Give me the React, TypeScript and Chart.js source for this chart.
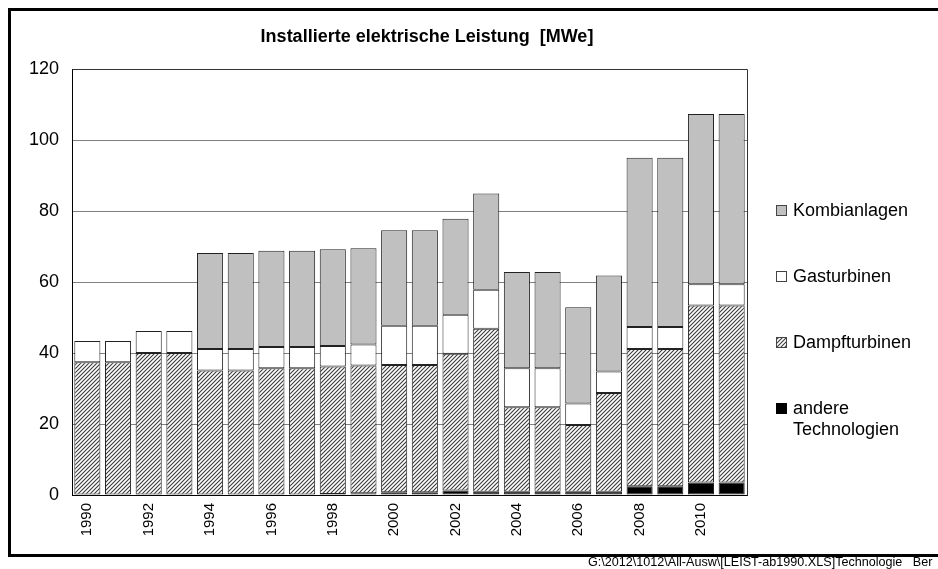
import React, { useEffect, useRef } from "react";
import { Chart, registerables } from "chart.js";
Chart.register(...registerables);

const years = [
  "1990", "1991", "1992", "1993", "1994", "1995", "1996", "1997", "1998", "1999", "2000",
  "2001", "2002", "2003", "2004", "2005", "2006", "2007", "2008", "2009", "2010", "2011",
];
const andereTechnologien = [0, 0, 0, 0, 0, 0, 0, 0, 0.3, 0.5, 0.8, 0.8, 1.3, 0.9, 0.9, 0.9, 0.9, 0.9, 2.5, 2.5, 3.5, 3.5];
const dampfturbinen = [37.4, 37.4, 40.0, 40.0, 35.1, 35.1, 35.7, 35.7, 35.9, 36.0, 35.8, 35.8, 38.5, 45.9, 23.8, 23.8, 18.8, 27.8, 38.6, 38.6, 49.9, 49.9];
const gasturbinen = [6.0, 6.0, 6.2, 6.2, 6.0, 6.0, 6.0, 6.0, 5.8, 5.9, 11.1, 11.1, 11.0, 11.0, 11.0, 11.0, 6.1, 6.1, 6.2, 6.2, 6.0, 6.0];
const kombianlagen = [0, 0, 0, 0, 27.1, 27.1, 27.1, 27.1, 27.2, 27.1, 26.9, 26.9, 27.0, 27.1, 27.1, 27.1, 27.1, 27.0, 47.7, 47.7, 47.9, 47.9];
const yTickValues = [0, 20, 40, 60, 80, 100, 120];

const titleText = "Installierte elektrische Leistung  [MWe]";
const footerText = "G:\\2012\\1012\\All-Ausw\\[LEIST-ab1990.XLS]Technologie   Ber";
const legendLabels = ["Kombianlagen", "Gasturbinen", "Dampfturbinen", "andere\nTechnologien"];

const FONT = "'Liberation Sans', Arial, sans-serif";

function makeHatch(ctx: CanvasRenderingContext2D): CanvasPattern | string {
  const c = document.createElement("canvas");
  c.width = 4;
  c.height = 4;
  const g = c.getContext("2d");
  if (!g) return "#888";
  g.fillStyle = "#ffffff";
  g.fillRect(0, 0, 4, 4);
  g.strokeStyle = "#3a3a3a";
  g.lineWidth = 1.1;
  g.beginPath();
  g.moveTo(-1, 5);
  g.lineTo(5, -1);
  g.moveTo(-1, 1);
  g.lineTo(1, -1);
  g.moveTo(3, 5);
  g.lineTo(5, 3);
  g.stroke();
  const p = ctx.createPattern(c, "repeat");
  return p || "#888";
}

export default function App() {
  const ref = useRef<HTMLCanvasElement | null>(null);

  useEffect(() => {
    const canvas = ref.current;
    if (!canvas) return;
    const ctx = canvas.getContext("2d");
    if (!ctx) return;
    const hatch = makeHatch(ctx);
    const fills: (string | CanvasPattern)[] = ["#c0c0c0", "#ffffff", hatch, "#000000"];

    const decor = {
      id: "decor",
      beforeDraw(chart: any) {
        const c = chart.ctx;
        c.save();
        c.fillStyle = "#ffffff";
        c.fillRect(0, 0, chart.width, chart.height);
        c.restore();
      },
      afterDraw(chart: any) {
        const c = chart.ctx as CanvasRenderingContext2D;
        const a = chart.chartArea;
        c.save();
        // plot border (top/right)
        c.strokeStyle = "#333333";
        c.lineWidth = 1;
        c.beginPath();
        c.moveTo(Math.round(a.left) + 0.5, Math.round(a.top) + 0.5);
        c.lineTo(Math.round(a.right) + 0.5, Math.round(a.top) + 0.5);
        c.lineTo(Math.round(a.right) + 0.5, Math.round(a.bottom) + 0.5);
        c.stroke();
        // outer frame
        c.strokeStyle = "#000000";
        c.lineWidth = 3;
        c.strokeRect(9.5, 9.5, 960, 546);
        // title
        c.fillStyle = "#000000";
        c.font = "bold 18px " + FONT;
        c.textAlign = "center";
        c.textBaseline = "middle";
        c.fillText(titleText, 427, 37);
        // legend
        const ys = [210, 276, 342, 408];
        c.font = "18px " + FONT;
        c.textAlign = "left";
        for (let i = 0; i < legendLabels.length; i++) {
          const y = ys[i];
          c.fillStyle = fills[i] as any;
          c.fillRect(776, y - 5, 11, 11);
          c.strokeStyle = i === 3 ? "#000" : "#444";
          c.lineWidth = 1;
          c.strokeRect(776.5, y - 4.5, 10, 10);
          c.fillStyle = "#000000";
          const lines = legendLabels[i].split("\n");
          lines.forEach((ln, k) => c.fillText(ln, 793, y + 1 + k * 21));
        }
        // footer
        c.font = "12.6px " + FONT;
        c.textBaseline = "middle";
        c.fillText(footerText, 588, 563);
        c.restore();
      },
    };

    const chart = new Chart(canvas, {
      type: "bar",
      data: {
        labels: years,
        datasets: [
          { label: "andere Technologien", data: andereTechnologien, backgroundColor: "#000000" },
          { label: "Dampfturbinen", data: dampfturbinen, backgroundColor: hatch as any },
          { label: "Gasturbinen", data: gasturbinen, backgroundColor: "#ffffff" },
          { label: "Kombianlagen", data: kombianlagen, backgroundColor: "#c0c0c0" },
        ].map((d) => ({
          ...d,
          borderColor: "#222222",
          borderWidth: 1,
          borderSkipped: false as any,
          barPercentage: 0.85,
          categoryPercentage: 1.0,
        })),
      },
      options: {
        responsive: false,
        animation: false,
        layout: { padding: { left: 20, right: 191, top: 69, bottom: 24 } },
        plugins: {
          legend: { display: false },
          title: { display: false },
          tooltip: { enabled: false },
        },
        scales: {
          x: {
            stacked: true,
            grid: { display: false, drawTicks: false },
            border: { display: true, color: "#000000", width: 1 },
            ticks: {
              autoSkip: false,
              minRotation: 90,
              maxRotation: 90,
              padding: 8,
              color: "#000000",
              font: { family: FONT, size: 15 },
              callback: (_v: any, i: number) => (i % 2 === 0 ? years[i] : ""),
            },
            afterFit: (s: any) => {
              s.height = 50;
            },
          },
          y: {
            stacked: true,
            min: 0,
            max: 120,
            grid: { color: "#808080", lineWidth: 1, drawTicks: false },
            border: { display: true, color: "#000000", width: 1 },
            afterBuildTicks: (s: any) => {
              s.ticks = yTickValues.map((v) => ({ value: v }));
            },
            ticks: {
              padding: 13,
              color: "#000000",
              font: { family: FONT, size: 18 },
            },
            afterFit: (s: any) => {
              s.width = 52;
            },
          },
        },
      },
      plugins: [decor],
    });
    return () => chart.destroy();
  }, []);

  return (
    <div style={{ position: "absolute", left: 0, top: 0, width: 938, height: 569, overflow: "hidden" }}>
      <canvas ref={ref} width={938} height={569} style={{ width: 938, height: 569, display: "block" }} />
    </div>
  );
}
